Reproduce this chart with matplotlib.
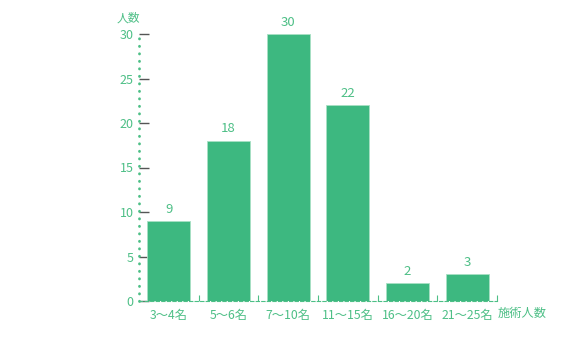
import matplotlib
matplotlib.use("Agg")
import matplotlib.pyplot as plt
import numpy as np

categories = ["3～4名", "5～6名", "7～10名", "11～15名", "16～20名", "21～25名"]
values = [9, 18, 30, 22, 2, 3]
yticks = [0, 5, 10, 15, 20, 25, 30]

plt.rcParams['font.family'] = ['Noto Sans CJK JP', 'DejaVu Sans']

bar_color = "#3db880"
text_color = "#4dbf86"

fig = plt.figure(figsize=(5.77, 3.52), dpi=100)
ax = fig.add_axes([139/577, 51/352, 358/577, 267/352])

x = np.arange(len(categories))
ax.bar(x, values, width=0.72, color=bar_color, edgecolor="#a8e0c4", linewidth=0.6, zorder=2)
for xi, v in zip(x, values):
    ax.text(xi, v + 0.6, str(v), ha="center", va="bottom", color=text_color, fontsize=9.5)

ax.set_xlim(-0.5, len(categories) - 0.5)
ax.set_ylim(0, 30)
ax.set_yticks(yticks)
ax.set_yticklabels([str(t) for t in yticks], color=text_color, fontsize=9)
ax.set_xticks(x)
ax.set_xticklabels(categories, color=text_color, fontsize=8.8)
ax.set_xticks(np.arange(len(categories)) + 0.5, minor=True)

ax.tick_params(axis="y", direction="in", length=7, width=1, color="#555555", pad=4)
ax.tick_params(axis="x", which="major", length=0, pad=6)
ax.tick_params(axis="x", which="minor", direction="in", length=4, width=0.8, color=text_color)

for s in ["top", "right"]:
    ax.spines[s].set_visible(False)
ax.spines["left"].set_color(text_color)
ax.spines["left"].set_linestyle((0, (0.1, 2.6)))
ax.spines["left"].set_linewidth(2.0)
ax.spines["left"].set_capstyle("round")
ax.spines["bottom"].set_color(text_color)
ax.spines["bottom"].set_linestyle((0, (3, 2)))
ax.spines["bottom"].set_linewidth(0.8)

fig.text(128/577, 1 - 18/352, "人数", color=text_color, fontsize=8.5, ha="center", va="center")
fig.text(522/577, 1 - 313/352, "施術人数", color=text_color, fontsize=8.8, ha="center", va="center")

fig.savefig("out.png", dpi=100)
